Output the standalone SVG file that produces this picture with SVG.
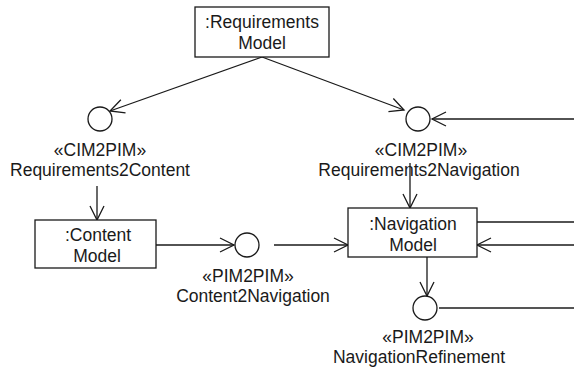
<svg xmlns="http://www.w3.org/2000/svg" width="574" height="368" viewBox="0 0 574 368">
  <style>
    .box { fill: #ffffff; stroke: #1a1a1a; stroke-width: 1.3; }
    .port { fill: #ffffff; stroke: #1a1a1a; stroke-width: 1.3; }
    .lbl { font-family: "Liberation Sans", Arial, sans-serif; font-size: 17.5px; fill: #1a1a1a; text-anchor: middle; }
    .edge { fill: none; stroke: #1a1a1a; stroke-width: 1.3; }
    .edge-gray { fill: none; stroke: #555555; stroke-width: 2; }
  </style>
  <defs>
    <marker id="open" markerUnits="userSpaceOnUse" markerWidth="18" markerHeight="18" refX="15" refY="9" orient="auto">
      <path d="M1,2 L15,9 L1,16" fill="none" stroke="#1a1a1a" stroke-width="1.3"/>
    </marker>
  </defs>

  <rect width="574" height="368" fill="#ffffff"/>

  <g id="connectors">
    <path class="edge" d="M262,57 L110,111" marker-end="url(#open)"/>
    <path class="edge" d="M262,57 L404,110" marker-end="url(#open)"/>
    <path class="edge" d="M574,119 L432,119" marker-end="url(#open)"/>
    <path class="edge" d="M97,186 L97,220" marker-end="url(#open)"/>
    <path class="edge" d="M156,245 L234,245" marker-end="url(#open)"/>
    <path class="edge" d="M274,245 L348,245" marker-end="url(#open)"/>
    <path class="edge" d="M410,163 L410,208" marker-end="url(#open)"/>
    <path class="edge" d="M477,222 L574,222"/>
    <path class="edge" d="M574,245 L477,245" marker-end="url(#open)"/>
    <path class="edge" d="M427,257 L427,296" marker-end="url(#open)"/>
    <path class="edge-gray" d="M439,308 L574,308"/>
  </g>

  <g id="requirements-model">
    <rect class="box" x="195" y="7" width="134" height="50"/>
    <text class="lbl" x="262" y="28">:Requirements</text>
    <text class="lbl" x="262" y="49">Model</text>
  </g>

  <g id="requirements2content">
    <circle class="port" cx="100" cy="119" r="12"/>
    <text class="lbl" x="100" y="156">«CIM2PIM»</text>
    <text class="lbl" x="100" y="176">Requirements2Content</text>
  </g>

  <g id="requirements2navigation">
    <circle class="port" cx="418" cy="119" r="12"/>
    <text class="lbl" x="421" y="156">«CIM2PIM»</text>
    <text class="lbl" x="419" y="176">Requirements2Navigation</text>
  </g>

  <g id="content-model">
    <rect class="box" x="35" y="220" width="121" height="48"/>
    <text class="lbl" x="98" y="241">:Content</text>
    <text class="lbl" x="97" y="262">Model</text>
  </g>

  <g id="content2navigation">
    <circle class="port" cx="247" cy="245" r="12"/>
    <text class="lbl" x="248" y="282">«PIM2PIM»</text>
    <text class="lbl" x="253" y="302">Content2Navigation</text>
  </g>

  <g id="navigation-model">
    <rect class="box" x="348" y="208" width="129" height="49"/>
    <text class="lbl" x="413" y="230">:Navigation</text>
    <text class="lbl" x="413" y="251">Model</text>
  </g>

  <g id="navigation-refinement">
    <circle class="port" cx="425" cy="308" r="12"/>
    <text class="lbl" x="428" y="343">«PIM2PIM»</text>
    <text class="lbl" x="419" y="363">NavigationRefinement</text>
  </g>
</svg>
